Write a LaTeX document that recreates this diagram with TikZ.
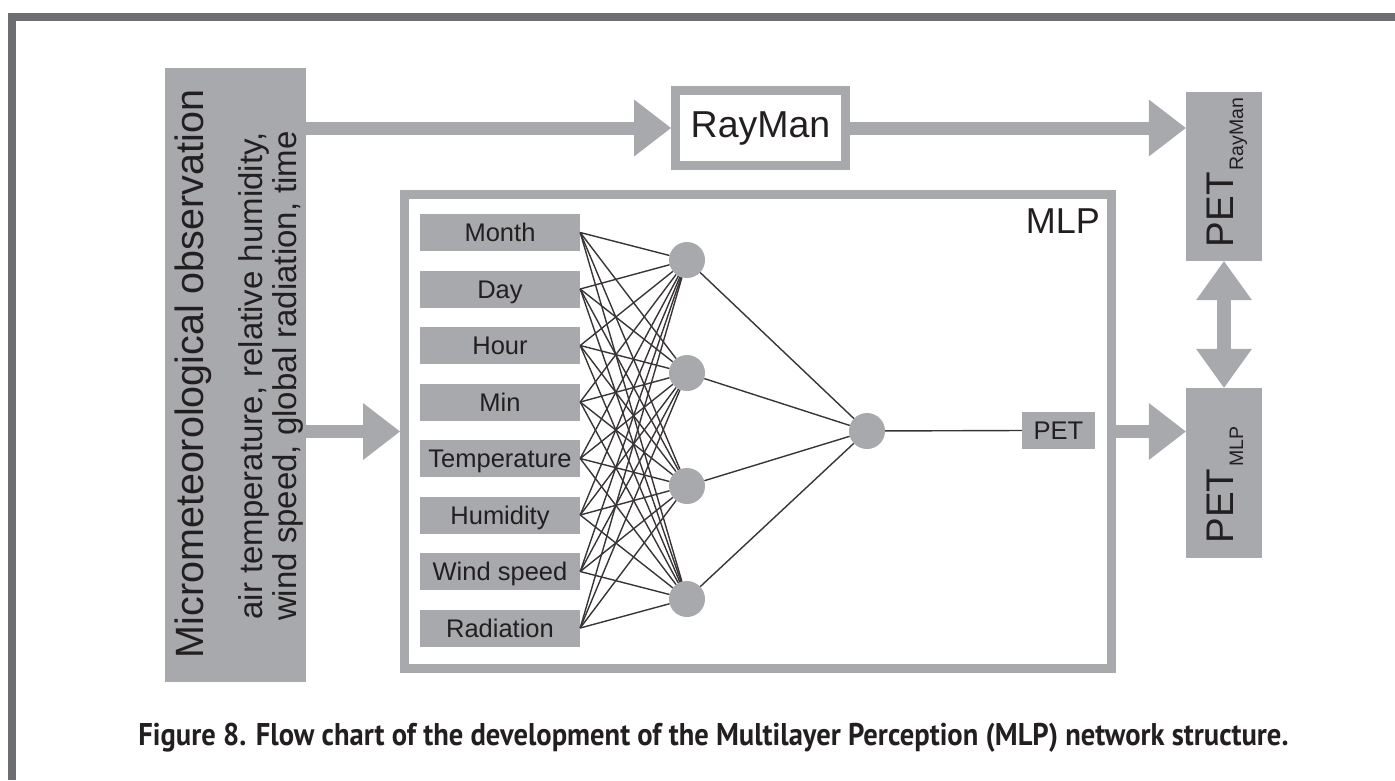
\documentclass[tikz,border=0pt]{standalone}
\usepackage{fontspec}
\setmainfont{Liberation Sans}
\newfontfamily\capfont{PT Sans}
\usepackage{graphicx}
\usetikzlibrary{arrows.meta}
\definecolor{boxgray}{HTML}{A7A9AC}
\definecolor{framegray}{HTML}{6D6E71}
\definecolor{ink}{HTML}{231F20}
\newcommand{\fs}[1]{\fontsize{#1}{#1}\selectfont}
\begin{document}
\begin{tikzpicture}[x=1pt,y=-1pt,
  gbox/.style={rectangle, fill=boxgray, draw=none, inner sep=0pt},
  inbox/.style={gbox, minimum width=160pt, minimum height=37pt, text height=18.3pt, text depth=0pt, font=\fs{25.5}, text=ink},
  neuron/.style={circle, fill=boxgray, draw=none, inner sep=0pt, minimum size=36pt},
  wire/.style={line width=1.4pt, draw=ink!90},
  fat/.style={draw=boxgray, line width=13pt, -{Triangle[length=37pt,width=57pt,line width=0pt]}},
  dbl/.style={draw=boxgray, line width=14pt, {Triangle[length=39pt,width=56pt,line width=0pt]}-{Triangle[length=39pt,width=56pt,line width=0pt]}},
  frame/.style={rectangle, draw=boxgray, line width=9pt, fill=white, inner sep=0pt},
  lbl/.style={text=ink, inner sep=0pt}
]
\useasboundingbox (0,0) rectangle (1395,780);
% page frame
\draw[framegray, line width=8pt] (1395,17) -- (12,17) -- (12,780);

% micrometeorological box
\node[gbox, minimum width=141pt, minimum height=614pt] (micro) at (235.5,375) {};
\node[lbl, rotate=90, anchor=base, font=\fs{39.5}] (microtitle) at (203,374) {Micrometeorological observation};
\node[lbl, rotate=90, anchor=base, font=\fs{33}] (microsubA) at (262,376) {air temperature, relative humidity,};
\node[lbl, rotate=90, anchor=base, font=\fs{33}] (microsubB) at (296,376) {wind speed, global radiation, time};

% RayMan
\node[frame, minimum width=170pt, minimum height=75pt, font=\fs{37.5}, text=ink] (rayman) at (760.5,128) {RayMan};

% PET outputs
\node[gbox, minimum width=76pt, minimum height=169pt] (petray) at (1224,176.5) {};
\node[lbl, rotate=90, anchor=base, font=\fs{38.5}] (petraytxt) at (1233,172.5) {PET\hspace{2pt}\raisebox{-10pt}{\fs{19.5}RayMan}};
\node[gbox, minimum width=76pt, minimum height=170pt] (petmlp) at (1224,473) {};
\node[lbl, rotate=90, anchor=base, font=\fs{38.5}] (petmlptxt) at (1233,485) {PET\hspace{2pt}\raisebox{-10pt}{\fs{19.5}MLP}};

% MLP frame
\node[frame, minimum width=707pt, minimum height=474pt] (mlp) at (758,431.5) {};
\node[lbl, anchor=base east, font=\fs{36}] (mlplabel) at (1100,233) {MLP};

% inputs
\foreach \n/\t [count=\i] in {in1/Month, in2/Day, in3/Hour, in4/Min, in5/Temperature, in6/Humidity, in7/Wind speed, in8/Radiation}
  \node[inbox] (\n) at (500,{232.5+56.5*(\i-1)}) {\t};

% hidden neurons
\foreach \j in {1,...,4}
  \node[neuron] (h\j) at (687,{260+113*(\j-1)}) {};
% output neuron and PET box
\node[neuron] (out) at (867,431) {};
\node[gbox, minimum width=73pt, minimum height=37pt, text height=18pt, text depth=0pt, font=\fs{25.5}, text=ink] (pet) at (1058.5,430.5) {PET};

% wires
\foreach \i in {1,...,8}
  \foreach \j in {1,...,4}
    \draw[wire] (in\i.east) -- (h\j);
\foreach \j in {1,...,4}
  \draw[wire] (h\j) -- (out);
\draw[wire] (out) -- (pet.west);

% thick arrows
\draw[fat] (micro.east |- rayman.west) -- (rayman.west);
\draw[fat] (rayman.east) -- (petray.west |- rayman.east);
\draw[fat] (micro.east |- mlp.west) -- (mlp.west);
\draw[fat] (mlp.east) -- (petmlp.west |- mlp.east);
\draw[dbl] (petray.south) -- (petmlp.north);

% caption
\node[text=ink, inner sep=0pt, anchor=base] (caption) at (713.5,745)
  {\resizebox{1150pt}{\height}{\capfont\bfseries\fs{31.4}Figure 8. Flow chart of the development of the Multilayer Perception (MLP) network structure.}};
\end{tikzpicture}
\end{document}
